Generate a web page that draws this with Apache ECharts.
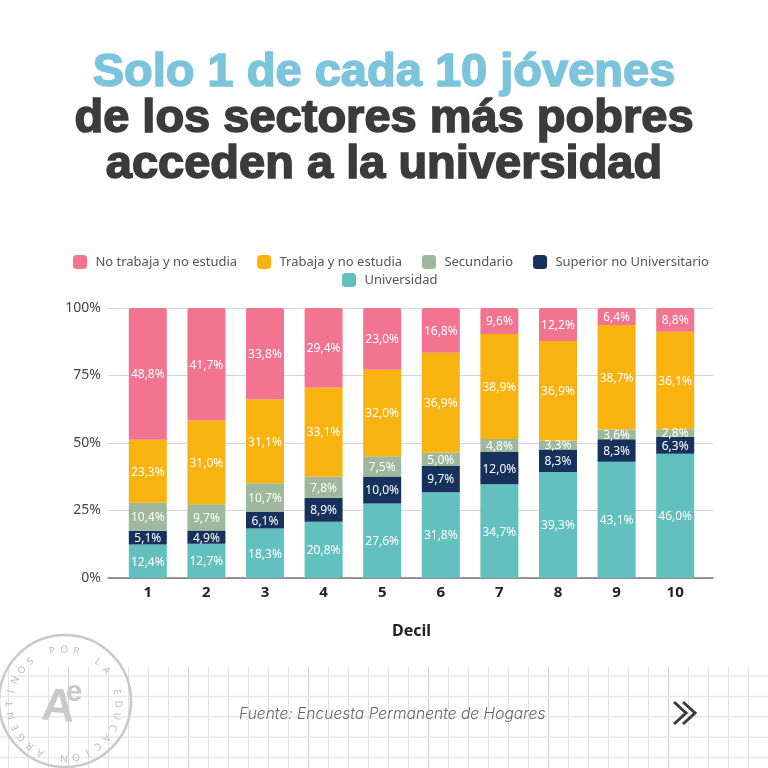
<!DOCTYPE html>
<html>
<head>
<meta charset="utf-8">
<script src="https://cdn.jsdelivr.net/npm/echarts@6/dist/echarts.min.js"></script>
<style>
html,body{margin:0;padding:0;background:#fff;}
#main{width:768px;height:768px;}
</style>
</head>
<body>
<div id="main"></div>
<script>
var deciles = ['1','2','3','4','5','6','7','8','9','10'];
var noTrabaja = [48.8,41.7,33.8,29.4,23.0,16.8,9.6,12.2,6.4,8.8];
var trabaja = [23.3,31.0,31.1,33.1,32.0,36.9,38.9,36.9,38.7,36.1];
var secundario = [10.4,9.7,10.7,7.8,7.5,5.0,4.8,3.3,3.6,2.8];
var superior = [5.1,4.9,6.1,8.9,10.0,9.7,12.0,8.3,8.3,6.3];
var universidad = [12.4,12.7,18.3,20.8,27.6,31.8,34.7,39.3,43.1,46.0];
var yTicks = [0,25,50,75,100];

var font = '"Noto Sans", sans-serif';
var titleFont = '"Liberation Sans", sans-serif';

function barSerie(name,values,color,top){
	return {
		name:name,
		type:'bar',
		stack:'total',
		xAxisIndex:1,
		yAxisIndex:1,
		barWidth:38,
		data:values,
		itemStyle:{color:color,borderRadius:top?[2,2,0,0]:0},
		label:{
			show:true,
			position:'inside',
			offset:[0,1],
			color:'#fff',
			fontFamily:font,
			fontSize:12,
			formatter:function(p){return p.value.toFixed(1).replace('.',',')+'%';}
		}
	};
}

function titleLine(text,color,top){
	return {text:text,left:'center',top:top,textStyle:{color:color,fontFamily:titleFont,fontWeight:'bold',fontSize:47,textBorderColor:color,textBorderWidth:1.6}};
}

// fondo cuadriculado del pie
function paperLines(){
	var out = [];
	for(var x=8;x<768;x+=20){
		out.push({type:'line',silent:true,shape:{x1:x+0.5,y1:667,x2:x+0.5,y2:768},style:{stroke:(x-68)%120==0?'#d0d0d0':'#e2e2e2',lineWidth:1}});
	}
	for(var y=676;y<768;y+=20.4){
		out.push({type:'line',silent:true,shape:{x1:0,y1:y,x2:768,y2:y},style:{stroke:'#e8e8e8',lineWidth:1.5}});
	}
	return out;
}

// sello circular
function stamp(){
	var cx = 64, cy = 704, r = 54;
	var txt = 'ARGENTINOS POR LA EDUCACIÓN';
	var out = [{type:'circle',silent:true,shape:{cx:65,cy:701,r:66},style:{fill:'none',stroke:'#c9c9c9',lineWidth:2.5}}];
	var start = 116, step = 12.85;
	for(var i=0;i<txt.length;i++){
		var a = (start+i*step)*Math.PI/180;
		out.push({type:'text',silent:true,x:cx+r*Math.cos(a),y:cy+r*Math.sin(a),rotation:-(a+Math.PI/2),
			style:{text:txt[i],fill:'#bdbdbd',font:'10px '+font,align:'center',verticalAlign:'middle'}});
	}
	out.push({type:'text',silent:true,x:58,y:708,rotation:-0.08,style:{text:'A',fill:'#c9c9c9',font:'bold 46px '+titleFont,align:'center',verticalAlign:'middle'}});
	out.push({type:'text',silent:true,x:74,y:693,style:{text:'e',fill:'#c9c9c9',font:'bold 30px '+titleFont,align:'center',verticalAlign:'middle'}});
	return out;
}

var chart = echarts.init(document.getElementById('main'));
chart.setOption({
	animation:false,
	backgroundColor:'#fff',
	title:[
		titleLine('Solo 1 de cada 10 jóvenes','#7cc4dc',45),
		titleLine('de los sectores más pobres','#3b3b3b',91),
		titleLine('acceden a la universidad','#3b3b3b',137),
		{text:'Fuente: Encuesta Permanente de Hogares',left:234,top:701,textStyle:{color:'#666',fontFamily:'Inter, sans-serif',fontStyle:'italic',fontWeight:300,fontSize:15.6}}
	],
	legend:[
		{data:['No trabaja y no estudia','Trabaja y no estudia','Secundario','Superior no Universitario'],left:68,top:250,itemWidth:14,itemHeight:14,itemGap:20,icon:'roundRect',formatter:' {name}',textStyle:{color:'#555',fontFamily:font,fontSize:13}},
		{data:['Universidad'],left:337,top:268,itemWidth:14,itemHeight:14,icon:'roundRect',formatter:' {name}',textStyle:{color:'#555',fontFamily:font,fontSize:13}}
	],
	grid:[
		{left:108,top:308,width:605,height:270},
		{left:118.5,top:308,width:586,height:270}
	],
	xAxis:[
		{gridIndex:0,type:'category',data:deciles,axisLabel:{show:false},axisTick:{show:false},axisLine:{lineStyle:{color:'#777',width:1.5}}},
		{gridIndex:1,type:'category',data:deciles,name:'Decil',nameLocation:'middle',nameGap:45,
			nameTextStyle:{color:'#222',fontFamily:font,fontWeight:'bold',fontSize:16},
			axisLine:{show:false},axisTick:{show:false},
			axisLabel:{color:'#222',fontFamily:font,fontWeight:'bold',fontSize:15,margin:7}}
	],
	yAxis:[
		{gridIndex:0,type:'value',min:0,max:100,interval:25,axisLine:{show:false},axisTick:{show:false},
			splitLine:{lineStyle:{color:'#d4d4d4',width:1}},
			axisLabel:{color:'#444',fontFamily:font,fontSize:14,margin:7,padding:[2,0,0,0],formatter:function(v){return yTicks.indexOf(v)>=0?v+'%':'';}}},
		{gridIndex:1,type:'value',min:0,max:100,show:false}
	],
	series:[
		barSerie('Universidad',universidad,'#62c0bf'),
		barSerie('Superior no Universitario',superior,'#16325c'),
		barSerie('Secundario',secundario,'#9db89a'),
		barSerie('Trabaja y no estudia',trabaja,'#f9b311'),
		barSerie('No trabaja y no estudia',noTrabaja,'#f27490',true)
	],
	graphic:paperLines().concat(stamp()).concat([
		{type:'polyline',silent:true,shape:{points:[[674,702],[686,713],[674,724]]},style:{fill:'none',stroke:'#3b3b3b',lineWidth:3}},
		{type:'polyline',silent:true,shape:{points:[[683,702],[695,713],[683,724]]},style:{fill:'none',stroke:'#3b3b3b',lineWidth:3}}
	])
});
</script>
</body>
</html>
